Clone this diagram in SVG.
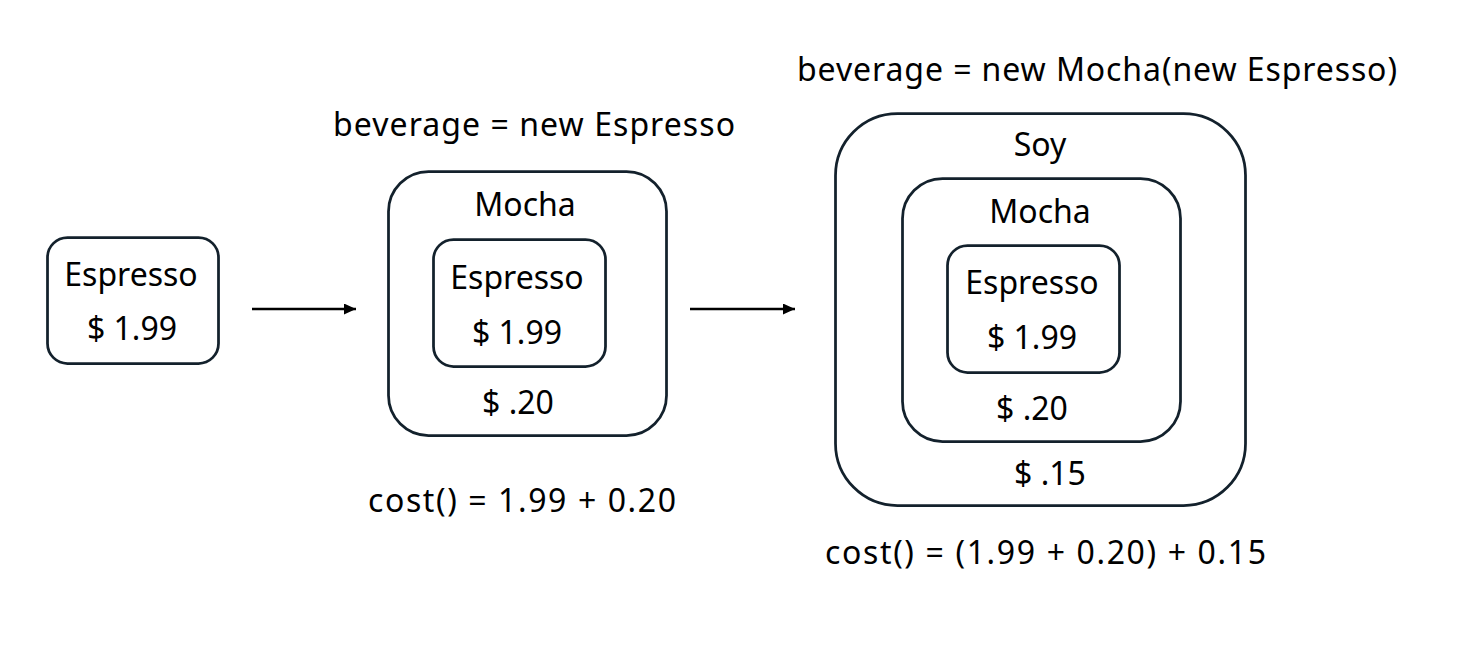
<svg xmlns="http://www.w3.org/2000/svg" width="1462" height="646" viewBox="0 0 1462 646">
<style>
.box{fill:#ffffff;stroke:#13212c;stroke-width:2.75}
.t{font-family:"Noto Sans","Liberation Sans",sans-serif;font-size:32px;fill:#000000;text-anchor:middle}
.l{font-family:"Noto Sans","Liberation Sans",sans-serif;font-size:32px;fill:#000000}
.c{stroke:#000000;stroke-width:2.5;fill:none}
</style>
<defs>
<marker id="ah" markerWidth="12" markerHeight="11" refX="12" refY="5.5" orient="auto" markerUnits="userSpaceOnUse">
<path d="M0,0 L12,5.5 L0,11 Z" fill="#000000"/>
</marker>
</defs>
<rect width="1462" height="646" fill="#ffffff"/>
<g id="espresso1">
<rect class="box" x="47.5" y="237.5" width="171" height="126" rx="20"/>
<text class="t" x="131" y="286">Espresso</text>
<text class="t" x="132" y="340">$ 1.99</text>
</g>
<g id="mocha2">
<text class="l" x="333" y="136" textLength="402" lengthAdjust="spacing">beverage = new Espresso</text>
<rect class="box" x="388.5" y="171.5" width="278" height="264" rx="40"/>
<text class="t" x="525" y="216">Mocha</text>
<text class="l" x="368" y="512" textLength="308" lengthAdjust="spacing">cost() = 1.99 + 0.20</text>
</g>
<g id="espresso2">
<rect class="box" x="433.5" y="239.5" width="172" height="127" rx="20"/>
<text class="t" x="517" y="289">Espresso</text>
<text class="t" x="517" y="344">$ 1.99</text>
<text class="t" x="518" y="414">$ .20</text>
</g>
<g id="soy3">
<text class="l" x="797" y="81" textLength="600" lengthAdjust="spacing">beverage = new Mocha(new Espresso)</text>
<rect class="box" x="835.5" y="113.5" width="410" height="392" rx="62"/>
<text class="t" x="1040" y="156">Soy</text>
<text class="t" x="1050" y="485">$ .15</text>
<text class="l" x="825" y="564" textLength="441" lengthAdjust="spacing">cost() = (1.99 + 0.20) + 0.15</text>
</g>
<g id="mocha3">
<rect class="box" x="902.5" y="178.5" width="278" height="263" rx="40"/>
<text class="t" x="1040" y="223">Mocha</text>
<text class="t" x="1032" y="420">$ .20</text>
</g>
<g id="espresso3">
<rect class="box" x="947.5" y="245.5" width="172" height="127" rx="20"/>
<text class="t" x="1032" y="294">Espresso</text>
<text class="t" x="1032" y="349">$ 1.99</text>
</g>
<g id="connectors">
<line class="c" x1="252" y1="309" x2="356" y2="309" marker-end="url(#ah)"/>
<line class="c" x1="690" y1="309" x2="795" y2="309" marker-end="url(#ah)"/>
</g>
</svg>
